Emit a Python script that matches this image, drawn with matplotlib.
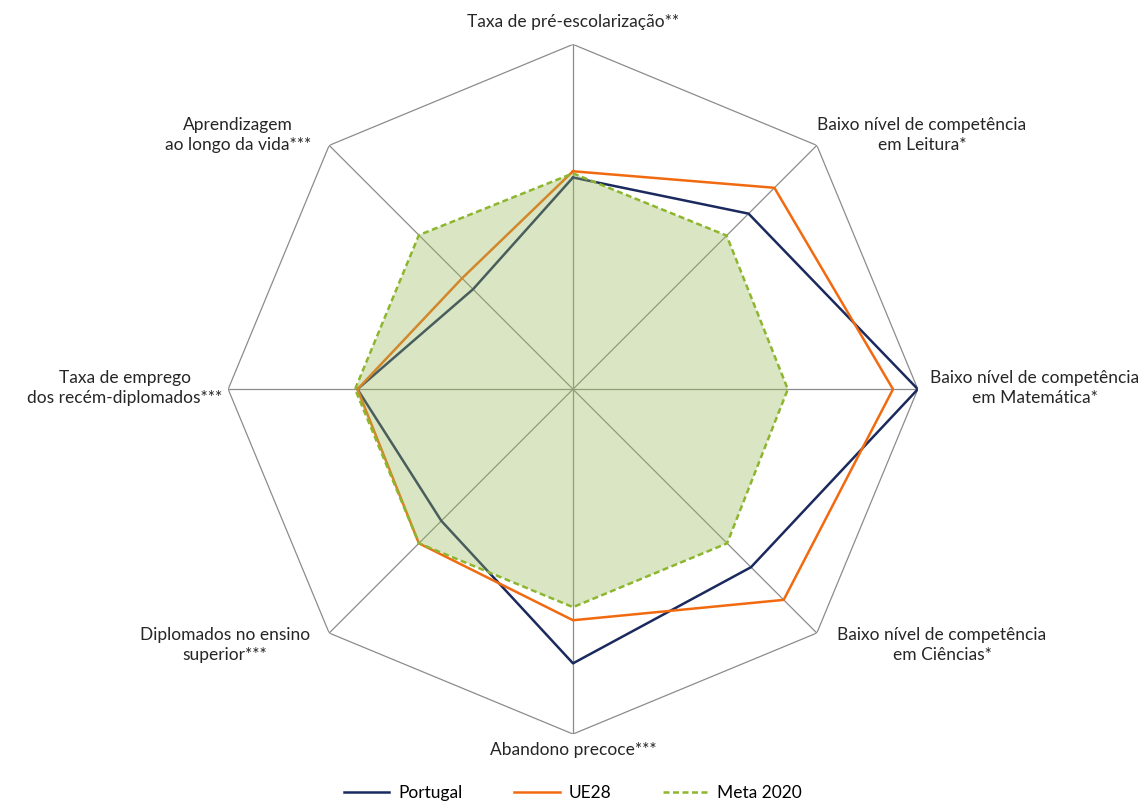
import numpy as np
import matplotlib
matplotlib.use("Agg")
import matplotlib.pyplot as plt

plt.rcParams['font.family'] = ['Lato', 'DejaVu Sans']

# eixos, no sentido dos ponteiros do relogio a partir do topo
categories = ["Taxa de pré-escolarização**",
              "Baixo nível de competência\nem Leitura*",
              "Baixo nível de competência\nem Matemática*",
              "Baixo nível de competência\nem Ciências*",
              "Abandono precoce***",
              "Diplomados no ensino\nsuperior***",
              "Taxa de emprego\ndos recém-diplomados***",
              "Aprendizagem\nao longo da vida***"]

portugal = [0.614, 0.72, 1.0, 0.73, 0.795, 0.54, 0.625, 0.41]
ue28 = [0.632, 0.826, 0.928, 0.864, 0.67, 0.632, 0.625, 0.455]
meta2020 = [0.626, 0.63, 0.623, 0.632, 0.632, 0.632, 0.632, 0.632]

NAVY = "#1B2A5E"
ORANGE = "#F26A10"
GREEN = "#8DB62E"
GRID = "#8C8C8C"

n = len(categories)
theta = np.linspace(0, 2 * np.pi, n, endpoint=False)


def closed(v):
    return np.append(v, v[0])


th = closed(theta)

fig = plt.figure(figsize=(11.46, 8.01), dpi=100)
ax = fig.add_axes([0.199, 0.0836, 0.602, 0.861], projection='polar')
ax.set_theta_zero_location('N')
ax.set_theta_direction(-1)
ax.set_ylim(0, 1)
ax.spines['polar'].set_visible(False)
ax.set_yticks([])
ax.set_xticks(theta)
ax.set_xticklabels([])
ax.xaxis.grid(True, color=GRID, lw=0.9)
ax.yaxis.grid(False)

# contorno octogonal
ax.plot(th, np.ones(n + 1), color=GRID, lw=0.9, zorder=1)

ax.plot(th, closed(portugal), color=NAVY, lw=1.8, zorder=2, label="Portugal")
ax.plot(th, closed(ue28), color=ORANGE, lw=1.8, zorder=2, label="UE28")
ax.fill(th, closed(meta2020), color="#9BBB59", alpha=0.36, lw=0, zorder=3)
ax.plot(th, closed(meta2020), color=GREEN, lw=1.8, ls=(0, (2.4, 1.4)),
        zorder=4, label="Meta 2020")

# rotulos dos eixos (posicoes em pixeis da figura)
W, H = 1146, 801
label_pos = [(573, 22), (922, 135), (1035, 388), (942, 645),
             (573, 750), (225, 645), (125, 388), (238, 135)]
for txt, (x, y) in zip(categories, label_pos):
    fig.text(x / W, 1 - y / H, txt, ha='center', va='center',
             multialignment='center', fontsize=12.5, color="#262626",
             linespacing=1.25)

fig.legend(loc='lower center', bbox_to_anchor=(0.5, -0.02), ncol=3,
           frameon=False, fontsize=12.5, handlelength=2.6,
           columnspacing=3.0, handletextpad=0.5)

fig.savefig("out.png", dpi=100)
